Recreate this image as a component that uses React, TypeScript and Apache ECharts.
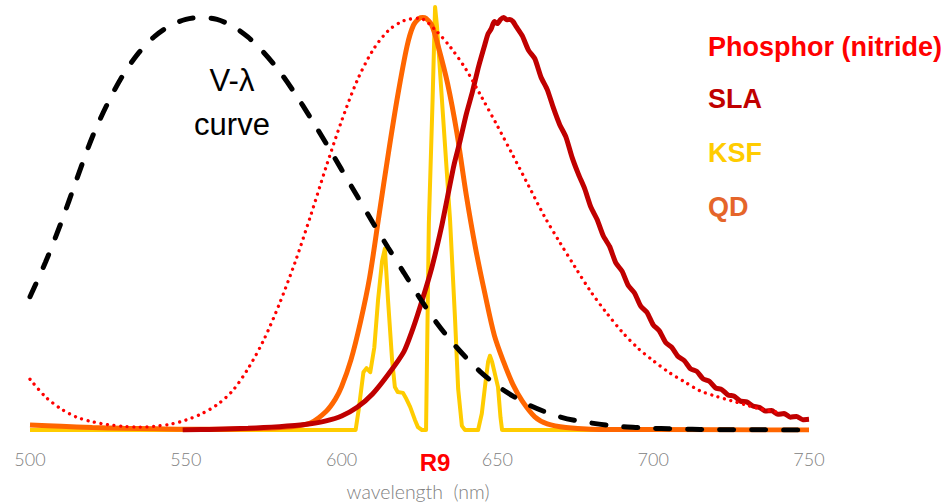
import React, { useEffect, useRef } from "react";
import * as echarts from "echarts";

// Wavelength tick labels
const xTicks = [500, 550, 600, 650, 700, 750];

// V-lambda curve (black dashed), 5 nm steps 500..750
const vWl = [500,505,510,515,520,525,530,535,540,545,550,555,560,565,570,575,580,585,590,595,600,605,610,615,620,625,630,635,640,645,650,655,660,665,670,675,680,685,690,695,700,705,710,715,720,725,730,735,740,745,750];
const vVal = [0.323,0.407,0.503,0.608,0.71,0.793,0.862,0.915,0.954,0.98,0.995,1.0,0.995,0.979,0.952,0.915,0.87,0.816,0.757,0.695,0.631,0.567,0.503,0.441,0.381,0.321,0.265,0.217,0.175,0.138,0.107,0.082,0.061,0.045,0.032,0.023,0.017,0.012,0.008,0.006,0.004,0.003,0.002,0.0015,0.001,0.0007,0.0005,0.0004,0.0002,0.0002,0.0001];

// Phosphor (nitride) red dotted
const phWl = [500,505,510,515,520,525,530,535,540,545,550,555,560,565,570,575,580,585,590,595,600,605,610,615,620,625,630,635,640,645,650,655,660,665,670,675,680,685,690,695,700,705,710,715,720,725,730,735,740];
const phVal = [0.123,0.08,0.051,0.031,0.02,0.013,0.009,0.007,0.009,0.014,0.024,0.039,0.061,0.095,0.149,0.218,0.305,0.405,0.518,0.637,0.749,0.847,0.92,0.968,0.992,0.998,0.97,0.927,0.873,0.806,0.737,0.665,0.592,0.519,0.455,0.394,0.335,0.284,0.238,0.199,0.168,0.14,0.117,0.095,0.082,0.071,0.06,0.05,0.043];

// SLA dark red
const slaWl = [549,555,560,565,570,575,580,585,590,595,600,605,610,615,620,623,626,629,632,634,636,638,640,642,644,646,647,648,649,650,651,652,653,654,655,656,658,660,662,664,666,668,670,672,674,676,678,680,682,684,686,688,690,692,694,696,698,700,702,704,706,708,710,712,714,716,718,720,722,724,726,728,730,732,734,736,738,740,742,744,746,748,750];
const slaVal = [0,0.001,0.002,0.003,0.004,0.006,0.008,0.011,0.015,0.022,0.034,0.055,0.088,0.135,0.19,0.248,0.318,0.395,0.49,0.565,0.64,0.7,0.765,0.82,0.882,0.935,0.96,0.972,0.99,0.985,0.995,1.0,0.994,0.995,0.99,0.978,0.955,0.92,0.9,0.855,0.825,0.78,0.74,0.71,0.66,0.62,0.585,0.54,0.51,0.47,0.445,0.405,0.385,0.35,0.332,0.3,0.285,0.255,0.24,0.212,0.2,0.178,0.168,0.148,0.142,0.124,0.118,0.102,0.098,0.085,0.082,0.07,0.068,0.058,0.055,0.046,0.047,0.038,0.04,0.031,0.033,0.025,0.026];

// KSF yellow
const ksfWl = [500,604.5,605.5,607,608,609.2,610.5,611.7,613,613.9,614.9,616.2,617.1,618,619.7,620.8,622,623.5,624.5,625.8,627.1,628,629.2,630,630.6,632.2,634.8,636.4,637.4,638.6,639.6,643.8,645,646,647,647.6,648.3,650.2,651,651.5,750];
const ksfVal = [0,0,0.05,0.14,0.15,0.14,0.2,0.315,0.41,0.44,0.315,0.17,0.104,0.092,0.09,0.075,0.056,0.025,0.007,0,0,0.5,0.8,1.025,0.98,0.8,0.51,0.27,0.1,0.01,0,0,0.04,0.104,0.165,0.18,0.165,0.104,0.03,0,0];

// QD orange
const qdWl = [500,510,520,530,540,550,560,570,578,585,590,595,598,600,603,606,609,612,615,618,621,623,625,626,627,629,631,634,637,640,643,646,649,652,655,658,662,666,672,680,700,750];
const qdVal = [0.012,0.009,0.006,0.004,0.003,0.002,0.002,0.003,0.005,0.009,0.017,0.045,0.075,0.105,0.17,0.26,0.37,0.52,0.67,0.81,0.93,0.98,0.998,1.0,0.998,0.98,0.93,0.84,0.72,0.57,0.44,0.33,0.23,0.165,0.11,0.07,0.032,0.015,0.006,0.002,0.001,0];

const legendNames = ["Phosphor (nitride)", "SLA", "KSF", "QD"];
const legendColors = ["#FF0000", "#C00000", "#FFCC00", "#E5652A"];

const zip = (a: number[], b: number[]) => a.map((w, i) => [w, b[i]]);

export default function App() {
  const ref = useRef<HTMLDivElement>(null);
  useEffect(() => {
    const chart = echarts.init(ref.current!, null, { renderer: "svg" });
    const legendY = [47, 98.5, 153, 207];
    chart.setOption({
      animation: false,
      backgroundColor: "#ffffff",
      grid: { left: 30, right: 142, top: 5, bottom: 72 },
      xAxis: {
        type: "value",
        min: xTicks[0],
        max: xTicks[xTicks.length - 1],
        interval: 50,
        axisLine: { show: false },
        axisTick: { show: false },
        splitLine: { show: false },
        axisLabel: {
          color: "#808080",
          fontSize: 18,
          fontFamily: "Lato",
          fontWeight: 300,
          margin: 20,
        },
      },
      yAxis: {
        type: "value",
        min: 0,
        max: 1.03,
        show: false,
        splitLine: { show: false },
      },
      series: [
        {
          name: "KSF",
          type: "line",
          data: zip(ksfWl, ksfVal),
          symbol: "none",
          smooth: false,
          lineStyle: { color: "#FFCC00", width: 4, join: "round" },
          clip: false,
        },
        {
          name: "QD",
          type: "line",
          data: zip(qdWl, qdVal),
          symbol: "none",
          smooth: 0.3,
          lineStyle: { color: "#FF6600", width: 5 },
        },
        {
          name: "SLA",
          type: "line",
          data: zip(slaWl, slaVal),
          symbol: "none",
          smooth: 0.2,
          lineStyle: { color: "#C00000", width: 5, join: "round" },
        },
        {
          name: "Phosphor (nitride)",
          type: "line",
          data: zip(phWl, phVal),
          symbol: "none",
          smooth: 0.3,
          lineStyle: { color: "#FF0000", width: 3.3, type: [0.01, 6.6], cap: "round" },
        },
        {
          name: "V-λ",
          type: "line",
          data: zip(vWl, vVal),
          symbol: "none",
          smooth: 0.3,
          lineStyle: { color: "#000000", width: 5, type: [14, 18], cap: "round" },
        },
      ],
      graphic: [
        {
          type: "text",
          x: 232,
          y: 80,
          style: { text: "V-λ", fill: "#000", fontSize: 31, fontFamily: "Liberation Sans, Arial", align: "center", verticalAlign: "middle" },
        },
        {
          type: "text",
          x: 232,
          y: 124,
          style: { text: "curve", fill: "#000", fontSize: 31, fontFamily: "Liberation Sans, Arial", align: "center", verticalAlign: "middle" },
        },
        ...legendNames.map((n, i) => ({
          type: "text",
          x: 708,
          y: legendY[i],
          style: { text: n, fill: legendColors[i], fontSize: 27, fontWeight: "bold", fontFamily: "Liberation Sans, Arial", align: "left", verticalAlign: "middle" },
        })),
        {
          type: "text",
          x: 435,
          y: 462.5,
          style: { text: "R9", fill: "#FF0000", fontSize: 24, fontWeight: "bold", fontFamily: "Liberation Sans, Arial", align: "center", verticalAlign: "middle" },
        },
        {
          type: "text",
          x: 418,
          y: 491,
          style: { text: "wavelength  (nm)", fill: "#808080", fontSize: 19.5, fontWeight: 300, fontFamily: "Lato", align: "center", verticalAlign: "middle" },
        },
      ],
    });
    return () => chart.dispose();
  }, []);
  return <div ref={ref} style={{ position: "absolute", left: 0, top: 0, width: 951, height: 502 }} />;
}
